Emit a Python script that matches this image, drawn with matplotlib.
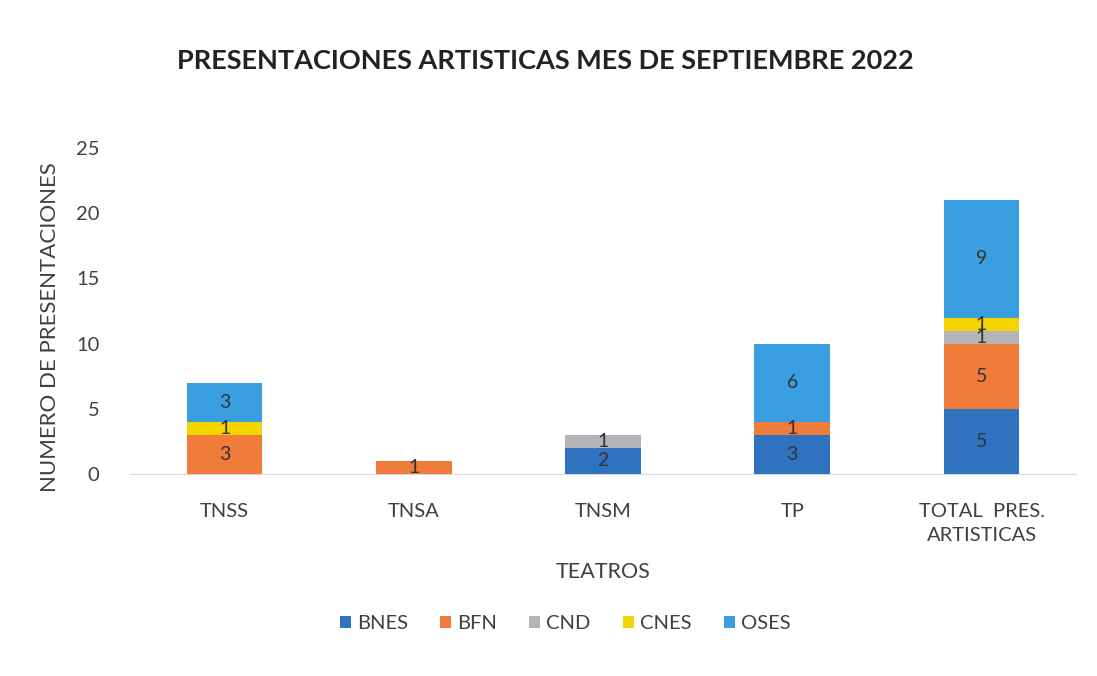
import numpy as np
import matplotlib.pyplot as plt

plt.rcParams['font.family'] = ['Lato', 'DejaVu Sans']

# Datos
teatros = ['TNSS', 'TNSA', 'TNSM', 'TP', 'TOTAL  PRES.\nARTISTICAS']
series = ['BNES', 'BFN', 'CND', 'CNES', 'OSES']
bnes = [0, 0, 2, 3, 5]
bfn = [3, 1, 0, 1, 5]
cnd = [0, 0, 1, 0, 1]
cnes = [1, 0, 0, 0, 1]
oses = [3, 0, 0, 6, 9]
colores = ['#2F72C0', '#F07B3A', '#B4B4B8', '#F5D400', '#3A9FE0']

valores = [bnes, bfn, cnd, cnes, oses]

fig = plt.figure(figsize=(10.97, 6.76), dpi=100)
ax = fig.add_axes([0.1185, 0.2988, 0.8625, 0.4822])

x = np.arange(len(teatros))
base = np.zeros(len(teatros))
for nombre, vals, col in zip(series, valores, colores):
    vals = np.array(vals, dtype=float)
    ax.bar(x, vals, 0.4, bottom=base, color=col, label=nombre, zorder=3)
    for xi, b, v in zip(x, base, vals):
        if v > 0:
            ax.text(xi, b + v / 2, f'{int(v)}', ha='center', va='center',
                    fontsize=14, color='#333333', zorder=4)
    base += vals

ax.set_xlim(-0.5, len(teatros) - 0.5)
ax.set_ylim(0, 25)
ax.set_yticks([0, 5, 10, 15, 20, 25])
ax.set_xticks(x)
ax.set_xticklabels(teatros, linespacing=1.5)
for s in ['top', 'right', 'left']:
    ax.spines[s].set_visible(False)
ax.spines['bottom'].set_color('#D9D9D9')
ax.tick_params(axis='both', length=0, labelsize=14.5, colors='#404040')
ax.tick_params(axis='x', pad=21)
ax.tick_params(axis='y', pad=22)

ax.set_ylabel('NUMERO DE PRESENTACIONES', fontsize=16, color='#404040')
ax.yaxis.set_label_coords(-0.074, 0.45)
ax.set_xlabel('TEATROS', fontsize=15.5, color='#404040', labelpad=13)

fig.text(0.497, 0.91, 'PRESENTACIONES ARTISTICAS MES DE SEPTIEMBRE 2022',
         ha='center', va='center', fontsize=19.5, fontweight='bold', color='#222222')

leg = ax.legend(loc='center', ncol=5, frameon=False, fontsize=14.5,
                handlelength=0.55, handleheight=0.55, columnspacing=1.6,
                handletextpad=0.3, labelcolor='#404040')
leg.set_bbox_to_anchor((0.515, 0.078), transform=fig.transFigure)

plt.savefig('out.png', dpi=100)
